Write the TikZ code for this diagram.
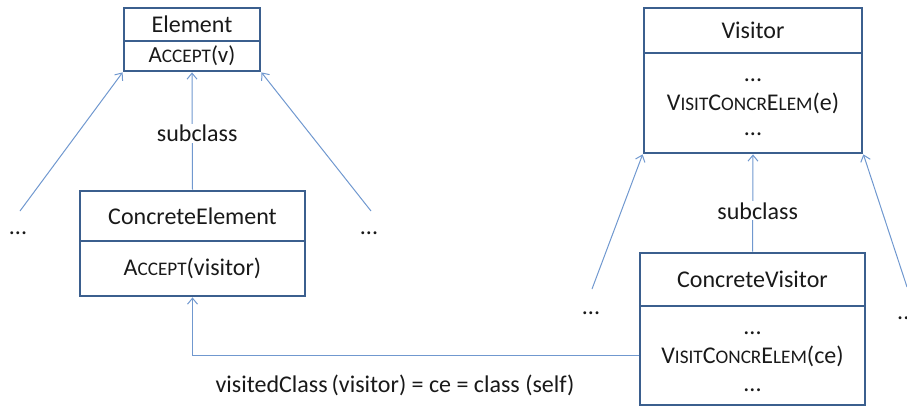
\documentclass[tikz,border=0pt]{standalone}
\usepackage{fontspec}
\setmainfont{Carlito}
\usetikzlibrary{arrows.meta}
\definecolor{boxc}{HTML}{3B5F8E}
\definecolor{arrc}{HTML}{7098CF}
\newcommand\smc[1]{{\fontsize{19.2pt}{22pt}\selectfont #1}}
\begin{document}
\begin{tikzpicture}[x=1pt,y=-1pt,
  txt/.style={font=\fontsize{24pt}{28pt}\selectfont, text=black!90, inner sep=0pt},
  part/.style={txt, draw=boxc, line width=2.8pt, align=center},
  lbl/.style={txt, fill=white, inner sep=1pt},
  arr/.style={draw=arrc, line width=1pt, -{Straight Barb[length=6pt,width=10pt]}}
]
\useasboundingbox (0,0) rectangle (907,407);

% Element
\node[part, minimum width=136pt, minimum height=33pt] (et) at (192,24.5) {Element};
\node[part, minimum width=136pt, minimum height=30pt, font=\fontsize{23pt}{26pt}\selectfont] (em) at (192,56) {A\smc{CCEPT}(v)};

% ConcreteElement
\node[part, minimum width=225pt, minimum height=50pt] (cet) at (192.5,216) {ConcreteElement};
\node[part, minimum width=225pt, minimum height=55pt] (cem) at (192.5,268.5) {A\smc{CCEPT}(visitor)};

% Visitor
\node[part, minimum width=218pt, minimum height=45pt] (vt) at (753,30.5) {Visitor};
\node[part, minimum width=218pt, minimum height=100pt] (vm) at (753,103) {};
\node[txt, anchor=base] (vm1) at (753,81) {...};
\node[txt, anchor=base] (vm2) at (753,110) {V\smc{ISIT}C\smc{ONCR}E\smc{LEM}(e)};
\node[txt, anchor=base] (vm3) at (753,135) {...};

% ConcreteVisitor
\node[part, minimum width=225pt, minimum height=53pt] (cvt) at (752.5,279.5) {ConcreteVisitor};
\node[part, minimum width=225pt, minimum height=99pt] (cvm) at (752.5,355.5) {};
\node[txt, anchor=base] (cvm1) at (752.5,334) {...};
\node[txt, anchor=base] (cvm2) at (752.5,363) {V\smc{ISIT}C\smc{ONCR}E\smc{LEM}(ce)};
\node[txt, anchor=base] (cvm3) at (752.5,391) {...};

% dots
\node[txt] (d1) at (18,233) {...};
\node[txt] (d2) at (369,233) {...};
\node[txt] (d3) at (591,313) {...};
\node[txt, anchor=west] (d4) at (897,318) {...};

% free ends
\coordinate (a1) at (20,211);
\coordinate (a3) at (371,211);
\coordinate (b1) at (592,289);
\coordinate (b3) at (907,287);

% connectors
\draw[arr] (a1) -- (em.south west);
\draw[arr] (a3) -- (em.south east);
\draw[arr] (cet.north) -- node[lbl, xshift=5pt, pos=0.48] (s1) {subclass} (em.south);

\draw[arr] (b1) -- (vm.south west);
\draw[arr] (b3) -- (vm.south east);
\draw[arr] (cvt.north) -- node[lbl, xshift=5pt, pos=0.42] (s2) {subclass} (vm.south);

\draw[arr] (cvm.west) -| (cem.south);

\node[txt] (eq) at (395,385) {visitedClass\,(visitor) = ce = class (self)};
\end{tikzpicture}
\end{document}
